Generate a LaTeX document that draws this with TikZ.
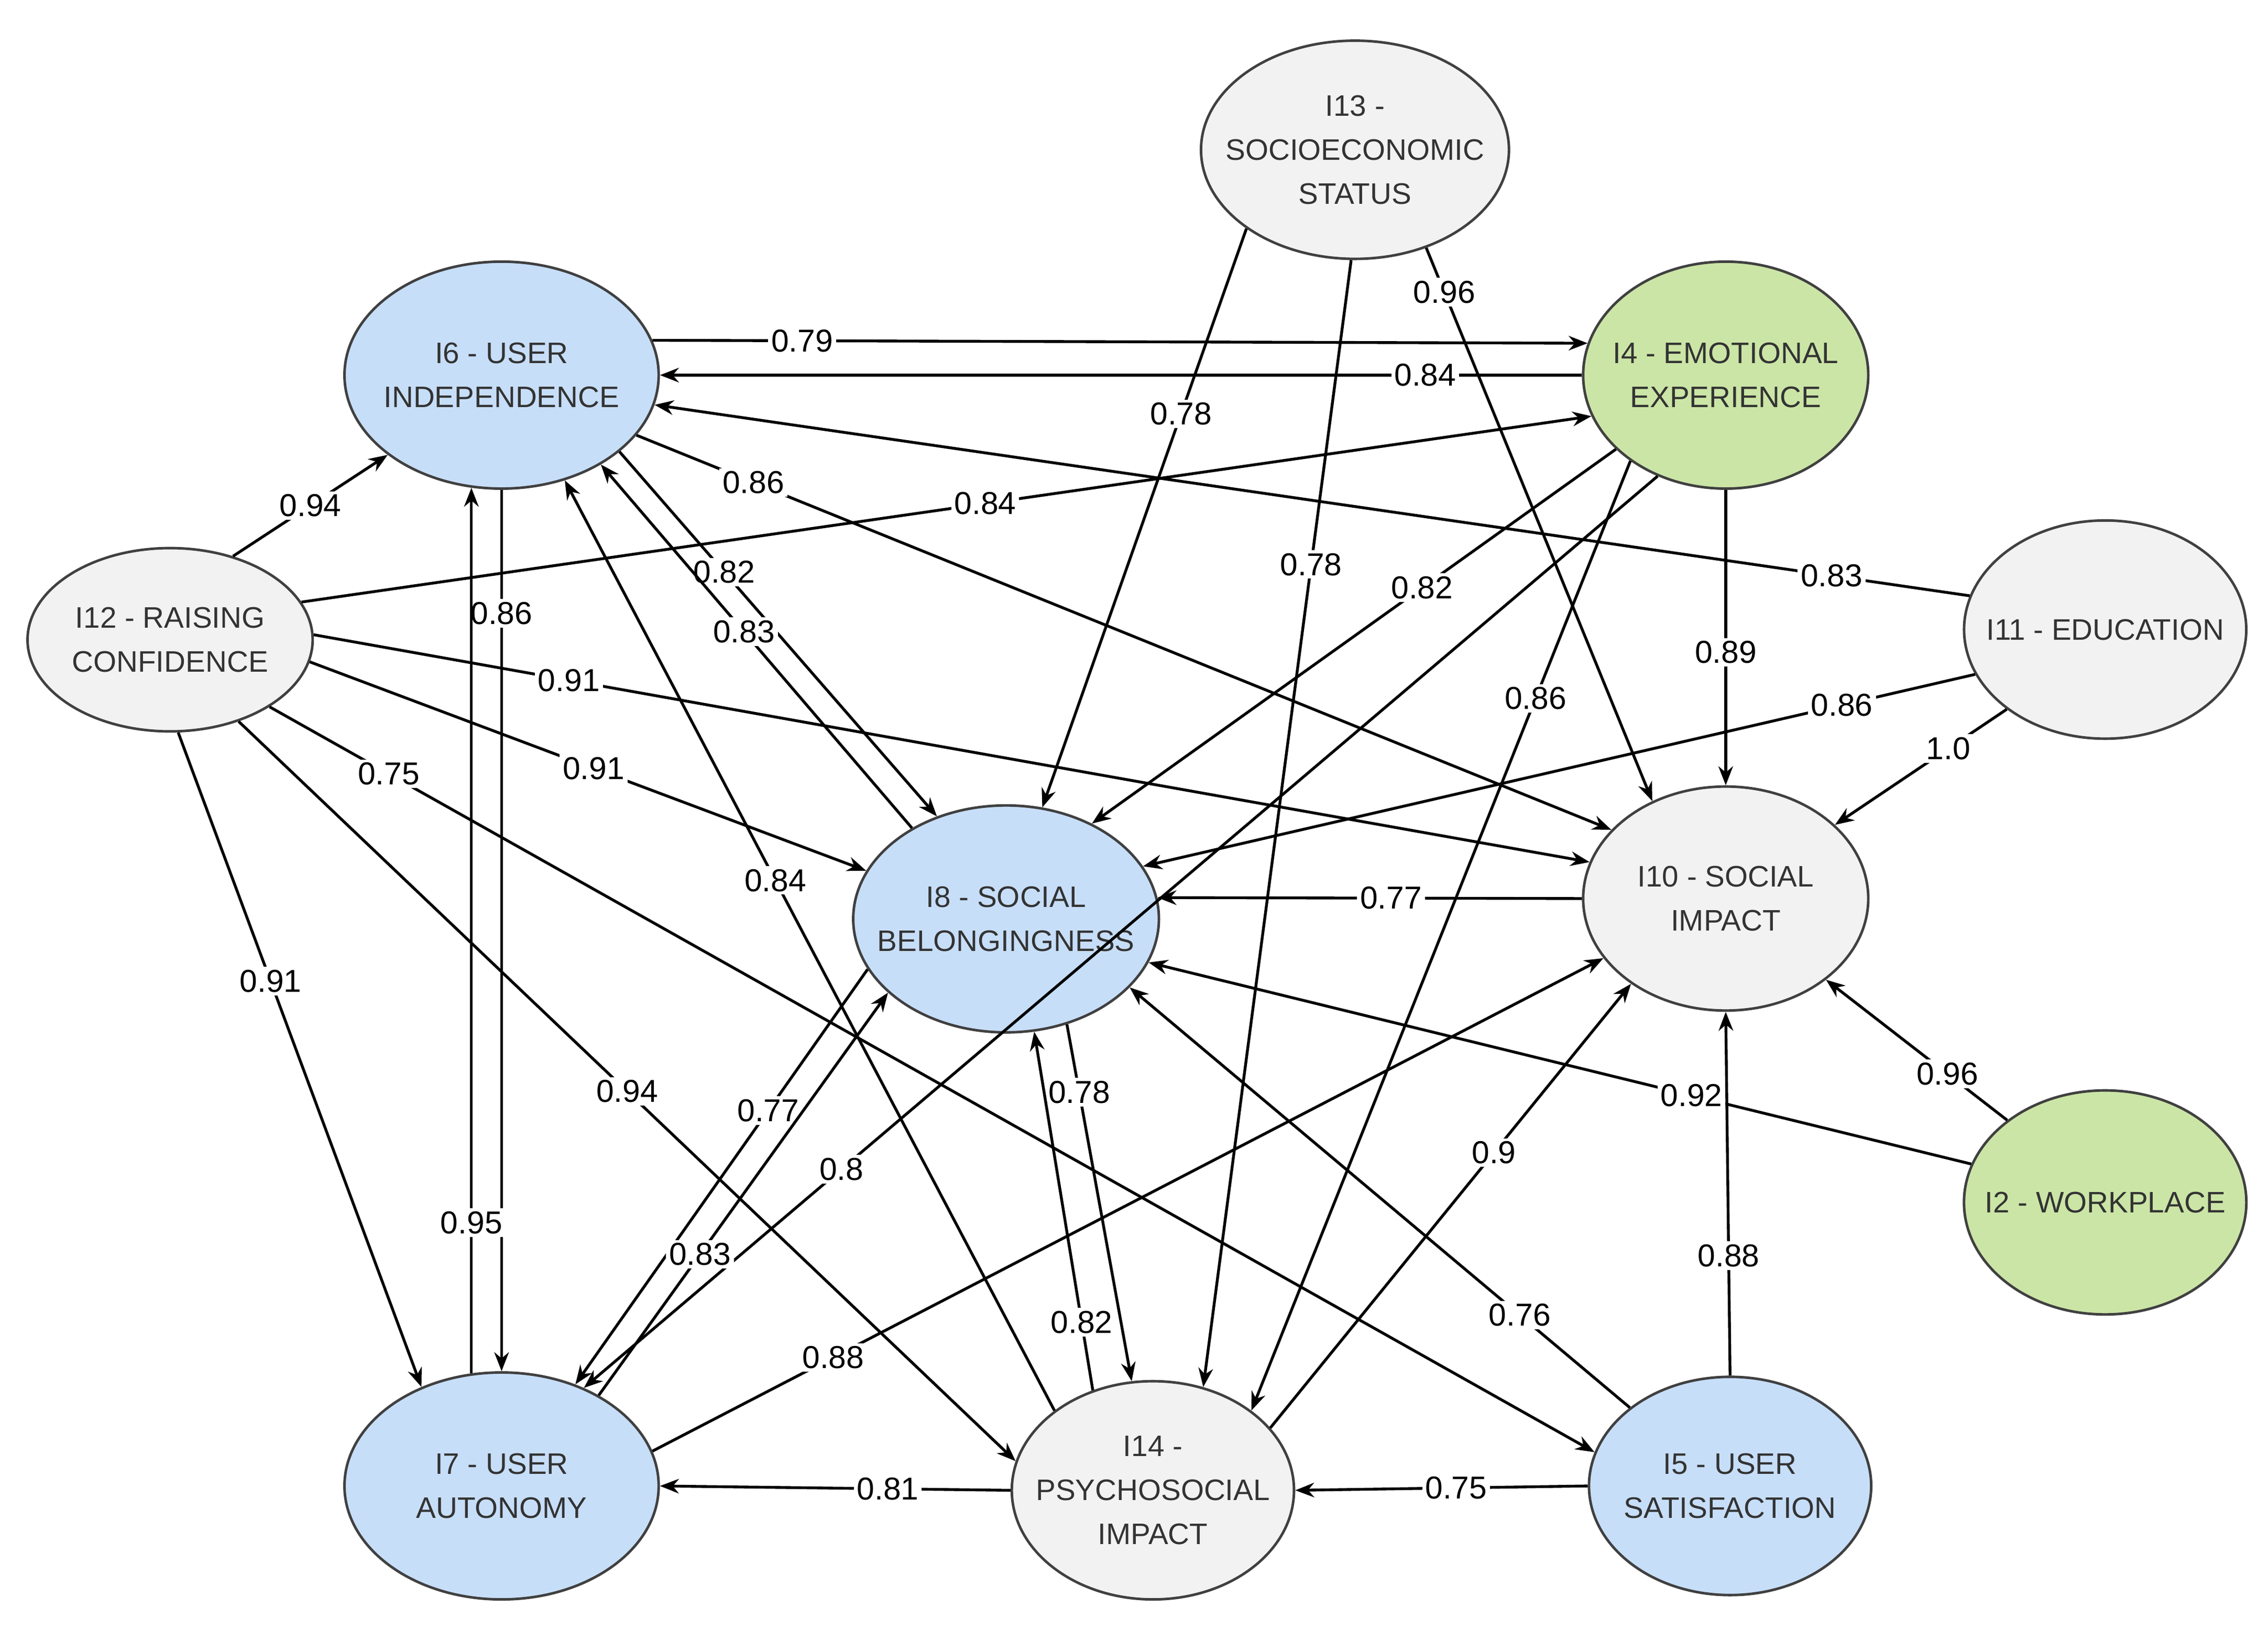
\documentclass[tikz,border=0pt]{standalone}
\usepackage{fontspec}
\setmainfont{Liberation Sans}
\usetikzlibrary{shapes.geometric,arrows.meta}
\definecolor{cblue}{HTML}{C7DEF9}
\definecolor{cgreen}{HTML}{CBE5A6}
\definecolor{cgray}{HTML}{F2F2F2}
\definecolor{ctext}{HTML}{333333}
\begin{document}
\begin{tikzpicture}[x=0.01cm,y=-0.01cm,
  nd/.style={ellipse,draw=black!75,line width=0.5pt,inner sep=-4pt,align=center,
    text=ctext,font=\fontsize{5.8}{8.6}\selectfont},
  bl/.style={nd,fill=cblue},
  gr/.style={nd,fill=cgreen},
  gy/.style={nd,fill=cgray},
  ed/.style={line width=0.55pt,-{Stealth[length=0.13cm,width=0.1cm]}},
  lb/.style={fill=white,inner sep=0.6pt,font=\fontsize{6.2}{7}\selectfont,text=black}]
\useasboundingbox (0,0) rectangle (1560,1121);
\fill[white] (0,0) rectangle (1560,1121);
\node[gy,minimum width=1.96cm,minimum height=1.5cm] (I13) at (932,103) {I13 -\\SOCIOECONOMIC\\STATUS};
\node[bl,minimum width=2.16cm,minimum height=1.56cm] (I6) at (345,258) {I6 - USER\\INDEPENDENCE};
\node[gr,minimum width=1.96cm,minimum height=1.56cm] (I4) at (1187,258) {I4 - EMOTIONAL\\EXPERIENCE};
\node[gy,minimum width=1.96cm,minimum height=1.26cm] (I12) at (117,440) {I12 - RAISING\\CONFIDENCE};
\node[gy,minimum width=1.94cm,minimum height=1.5cm] (I11) at (1448,433) {I11 - EDUCATION};
\node[bl,minimum width=2.1cm,minimum height=1.56cm] (I8) at (692,632) {I8 - SOCIAL\\BELONGINGNESS};
\node[gy,minimum width=1.96cm,minimum height=1.54cm] (I10) at (1187,618) {I10 - SOCIAL\\IMPACT};
\node[gr,minimum width=1.94cm,minimum height=1.54cm] (I2) at (1448,827) {I2 - WORKPLACE};
\node[bl,minimum width=2.16cm,minimum height=1.56cm] (I7) at (345,1022) {I7 - USER\\AUTONOMY};
\node[gy,minimum width=1.94cm,minimum height=1.5cm] (I14) at (793,1025) {I14 -\\PSYCHOSOCIAL\\IMPACT};
\node[bl,minimum width=1.94cm,minimum height=1.5cm] (I5) at (1190,1022) {I5 - USER\\SATISFACTION};

\draw[ed] (I6.13) -- node[lb,pos=.16]{0.79} (I4.167);
\draw[ed] (I4.180) -- node[lb,pos=.17]{0.84} (I6.0);
\draw[ed] (I13.216) -- node[lb,pos=.32]{0.78} (I8.72);
\draw[ed] (I13.268) -- node[lb,pos=.27]{0.78} (I14.64);
\draw[ed] (I13.306) -- node[lb,pos=.08]{0.96} (I10.127);
\draw[ed] (I12.53) -- node[lb,pos=.5]{0.94} (I6.215);
\draw[ed] (I12.16) -- node[lb,pos=.53]{0.84} (I4.197);
\draw[ed] (I11.166) -- node[lb,pos=.105]{0.83} (I6.349);
\draw[ed] (I6.336) -- node[lb,pos=.12]{0.86} (I10.149);
\draw[ed] (I6.270) -- node[lb,pos=.14]{0.86} (I7.90);
\draw[ed] (I7.105) -- node[lb,pos=.17]{0.95} (I6.255);
\draw[ed] (I6.327) -- node[lb,pos=.33]{0.82} (I8.124);
\draw[ed] (I8.136) -- node[lb,pos=.54]{0.83} (I6.318);
\draw[ed] (I14.141) -- node[lb,pos=.57]{0.84} (I6.301);
\draw[ed] (I12.2) -- node[lb,pos=.2]{0.91} (I10.165);
\draw[ed] (I12.351) -- node[lb,pos=.51]{0.91} (I8.161);
\draw[ed] (I12.326) -- node[lb,pos=.09]{0.75} (I5.166);
\draw[ed] (I12.275) -- node[lb,pos=.38]{0.91} (I7.129);
\draw[ed] (I12.310) -- node[lb,pos=.5]{0.94} (I14.168);
\draw[ed] (I4.214) -- node[lb,pos=.37]{0.82} (I8.48);
\draw[ed] (I4.236) -- node[lb,pos=.76]{0.8} (I7.50);
\draw[ed] (I4.222) -- node[lb,pos=.25]{0.86} (I14.39);
\draw[ed] (I4.270) -- node[lb,pos=.55]{0.89} (I10.90);
\draw[ed] (I11.199) -- node[lb,pos=.16]{0.86} (I8.21);
\draw[ed] (I11.219) -- node[lb,pos=.34]{1.0} (I10.34);
\draw[ed] (I10.180) -- node[lb,pos=.45]{0.77} (I8.8);
\draw[ed] (I2.164) -- node[lb,pos=.34]{0.92} (I8.343);
\draw[ed] (I2.140) -- node[lb,pos=.33]{0.96} (I10.321);
\draw[ed] (I8.200) -- node[lb,pos=.34]{0.77} (I7.54);
\draw[ed] (I7.43) -- node[lb,pos=.35]{0.83} (I8.212);
\draw[ed] (I8.300) -- node[lb,pos=.19]{0.78} (I14.101);
\draw[ed] (I14.121) -- node[lb,pos=.19]{0.82} (I8.284);
\draw[ed] (I7.13) -- node[lb,pos=.19]{0.88} (I10.206);
\draw[ed] (I14.28) -- node[lb,pos=.62]{0.9} (I10.222);
\draw[ed] (I5.142) -- node[lb,pos=.22]{0.76} (I8.331);
\draw[ed] (I5.90) -- node[lb,pos=.33]{0.88} (I10.270);
\draw[ed] (I5.180) -- node[lb,pos=.45]{0.75} (I14.0);
\draw[ed] (I14.180) -- node[lb,pos=.35]{0.81} (I7.0);
\end{tikzpicture}
\end{document}
